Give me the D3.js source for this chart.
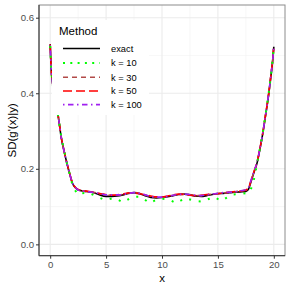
<!DOCTYPE html>
<html><head><meta charset="utf-8">
<script src="https://cdn.jsdelivr.net/npm/d3@7"></script>
<style>html,body{margin:0;padding:0;background:#fff}svg{display:block}</style>
</head><body>
<svg id="chart" width="291" height="291"></svg>
<script>
const xs = [0,0.1,0.2,0.35,0.5,0.75,1,1.25,1.5,1.75,2,2.25,2.5,
  3,3.5,4,4.5,5,5.5,6,6.5,7,7.5,8,8.5,9,9.5,10,10.5,11,11.5,12,12.5,13,13.5,14,14.5,15,15.5,16,16.5,17,17.5,
  17.75,18,18.25,18.5,18.75,19,19.25,19.5,19.75,19.9,20];
const exact = [0.53,0.46,0.43,0.40,0.376,0.333,0.281,0.246,0.214,0.186,0.161,0.150,0.144,
  0.141,0.139,0.136,0.130,0.127,0.127,0.128,0.131,0.135,0.137,0.134,0.129,0.124,0.123,0.124,0.126,0.129,0.132,0.133,0.131,0.128,0.127,0.129,0.132,0.134,0.135,0.137,0.138,0.139,0.140,
  0.147,0.170,0.193,0.215,0.251,0.291,0.339,0.388,0.448,0.487,0.523];
const k30 = [0.528,0.462,0.43,0.401,0.377,0.333,0.281,0.246,0.214,0.186,0.162,0.151,0.145,
  0.141,0.139,0.137,0.134,0.131,0.130,0.130,0.132,0.136,0.137,0.135,0.131,0.127,0.125,0.125,0.127,0.130,0.132,0.133,0.131,0.129,0.129,0.131,0.133,0.135,0.136,0.138,0.139,0.141,0.143,
  0.150,0.172,0.194,0.216,0.252,0.292,0.340,0.389,0.449,0.488,0.524];
const k50 = [0.529,0.461,0.431,0.401,0.376,0.334,0.282,0.247,0.215,0.187,0.162,0.151,0.145,
  0.142,0.140,0.137,0.134,0.132,0.130,0.131,0.133,0.136,0.136,0.134,0.131,0.128,0.126,0.126,0.128,0.131,0.133,0.132,0.130,0.129,0.130,0.132,0.134,0.134,0.136,0.138,0.140,0.141,0.144,
  0.151,0.172,0.195,0.217,0.253,0.293,0.341,0.390,0.450,0.489,0.525];
const k100 = [0.527,0.462,0.432,0.402,0.377,0.333,0.281,0.246,0.214,0.186,0.162,0.151,0.144,
  0.141,0.139,0.137,0.134,0.131,0.131,0.131,0.132,0.135,0.137,0.135,0.131,0.127,0.125,0.125,0.127,0.130,0.132,0.133,0.132,0.130,0.129,0.131,0.133,0.135,0.137,0.138,0.139,0.142,0.145,
  0.151,0.173,0.195,0.217,0.252,0.292,0.340,0.390,0.449,0.488,0.524];
const k10X = [0,0.1,0.2,0.5,0.75,1.0,1.25,1.5,1.75,1.97,2.42,3.32,4.1,4.9,5.74,6.55,7.36,8.13,8.88,9.69,10.53,11.27,12.08,12.9,13.72,14.56,15.37,16.17,17.0,17.82,18.15,18.5,18.75,19.0,19.25,19.5,19.75,20];
const k10 = [0.525,0.46,0.428,0.372,0.333,0.283,0.247,0.214,0.186,0.16,0.132,0.138,0.128,0.117,0.123,0.111,0.126,0.126,0.109,0.121,0.12,0.109,0.123,0.115,0.113,0.126,0.115,0.132,0.133,0.137,0.161,0.213,0.253,0.293,0.341,0.391,0.448,0.52];

const xTicks = [0,5,10,15,20];
const xMinor = [2.5,7.5,12.5,17.5];
const yTicks = [0.0,0.2,0.4,0.6];
const yMinor = [0.1,0.3,0.5];
const methods = ["exact","k = 10","k = 30","k = 50","k = 100"];

const colors = {"exact":"#000000","k = 10":"#00FF00","k = 30":"#B24A48","k = 50":"#FF0000","k = 100":"#A020F0"};
const dashes = {"exact":null,"k = 10":"2,7.8","k = 30":"5,4","k = 50":"9,4","k = 100":"1.5,3.5,5.5,3.5"};
const legendDashes = {"exact":null,"k = 10":"2,5.3","k = 30":"5,4","k = 50":"9,4","k = 100":"1.5,3.5,5.5,3.5"};

const L=39, R=285, T=5, B=255.7;
const svg = d3.select("#chart");
const font = "'Liberation Sans', Arial, Helvetica, sans-serif";
const x = d3.scaleLinear().domain([-1,21]).range([L,R]);
const y = d3.scaleLinear().domain([-0.03,0.6336]).range([B,T]);

// grid
const g = svg.append("g");
g.selectAll(".ymin").data(yMinor).enter().append("line")
  .attr("x1",L).attr("x2",R).attr("y1",d=>y(d)).attr("y2",d=>y(d))
  .attr("stroke","#F2F2F2").attr("stroke-width",0.6);
g.selectAll(".xmin").data(xMinor).enter().append("line")
  .attr("y1",T).attr("y2",B).attr("x1",d=>x(d)).attr("x2",d=>x(d))
  .attr("stroke","#F2F2F2").attr("stroke-width",0.6);
g.selectAll(".ymaj").data(yTicks).enter().append("line")
  .attr("x1",L).attr("x2",R).attr("y1",d=>y(d)).attr("y2",d=>y(d))
  .attr("stroke","#EBEBEB").attr("stroke-width",1.1);
g.selectAll(".xmaj").data(xTicks).enter().append("line")
  .attr("y1",T).attr("y2",B).attr("x1",d=>x(d)).attr("x2",d=>x(d))
  .attr("stroke","#EBEBEB").attr("stroke-width",1.1);

// lines
const line = d3.line().x(d=>x(d[0])).y(d=>y(d[1])).curve(d3.curveMonotoneX);
const series = [
  ["exact", xs.map((v,i)=>[v,exact[i]])],
  ["k = 30", xs.map((v,i)=>[v,k30[i]])],
  ["k = 50", xs.map((v,i)=>[v,k50[i]])],
  ["k = 100", xs.map((v,i)=>[v,k100[i]])],
  ["k = 10", k10X.map((v,i)=>[v,k10[i]])]
];
const pg = svg.append("g");
series.forEach(([m,pts])=>{
  pg.append("path").attr("d", m==="k = 10" ? d3.line().x(d=>x(d[0])).y(d=>y(d[1]))(pts) : line(pts))
    .attr("fill","none").attr("stroke",colors[m]).attr("stroke-width", m==="k = 10"?2:1.6)
    .attr("stroke-dasharray",dashes[m]);
});

// legend
const lg = svg.append("g");
lg.append("rect").attr("x",52).attr("y",20).attr("width",97).attr("height",95).attr("fill","#fff");
lg.append("text").attr("x",59).attr("y",35).attr("font-family",font).attr("font-size",11.5).attr("fill","#000").text("Method");
const rowY = [48.5,63,77.2,91,104.6];
methods.forEach((m,i)=>{
  lg.append("line").attr("x1",63).attr("x2",100).attr("y1",rowY[i]).attr("y2",rowY[i])
    .attr("stroke",colors[m]).attr("stroke-width",m==="k = 10"?2:1.6).attr("stroke-dasharray",legendDashes[m]);
  lg.append("text").attr("x",111).attr("y",rowY[i]+3.3).attr("font-family",font).attr("font-size",9.3).attr("fill","#000").text(m);
});

// panel border and axes
svg.append("rect").attr("x",L).attr("y",T).attr("width",R-L).attr("height",B-T)
  .attr("fill","none").attr("stroke","#8C8C8C").attr("stroke-width",1);
svg.append("line").attr("x1",L).attr("x2",L).attr("y1",T).attr("y2",B).attr("stroke","#333").attr("stroke-width",1);
svg.append("line").attr("x1",L).attr("x2",R).attr("y1",B).attr("y2",B).attr("stroke","#333").attr("stroke-width",1);

const xa = svg.append("g").attr("transform",`translate(0,${B})`)
  .call(d3.axisBottom(x).tickValues(xTicks).tickSize(3).tickPadding(2).tickFormat(d3.format("d")));
const ya = svg.append("g").attr("transform",`translate(${L},0)`)
  .call(d3.axisLeft(y).tickValues(yTicks).tickSize(3).tickPadding(2).tickFormat(d3.format(".1f")));
[xa,ya].forEach(a=>{
  a.select(".domain").remove();
  a.selectAll(".tick line").attr("stroke","#333");
  a.selectAll(".tick text").attr("fill","#4D4D4D").attr("font-family",font).attr("font-size",9.6);
});

svg.append("text").attr("x",(L+R)/2).attr("y",282).attr("text-anchor","middle")
  .attr("font-family",font).attr("font-size",11.5).attr("fill","#000").text("x");
svg.append("text").attr("transform",`translate(15.5,${(T+B)/2}) rotate(-90)`).attr("text-anchor","middle")
  .attr("font-family",font).attr("font-size",11.5).attr("fill","#000").text("SD(g'(x)|y)");
</script>
</body></html>
